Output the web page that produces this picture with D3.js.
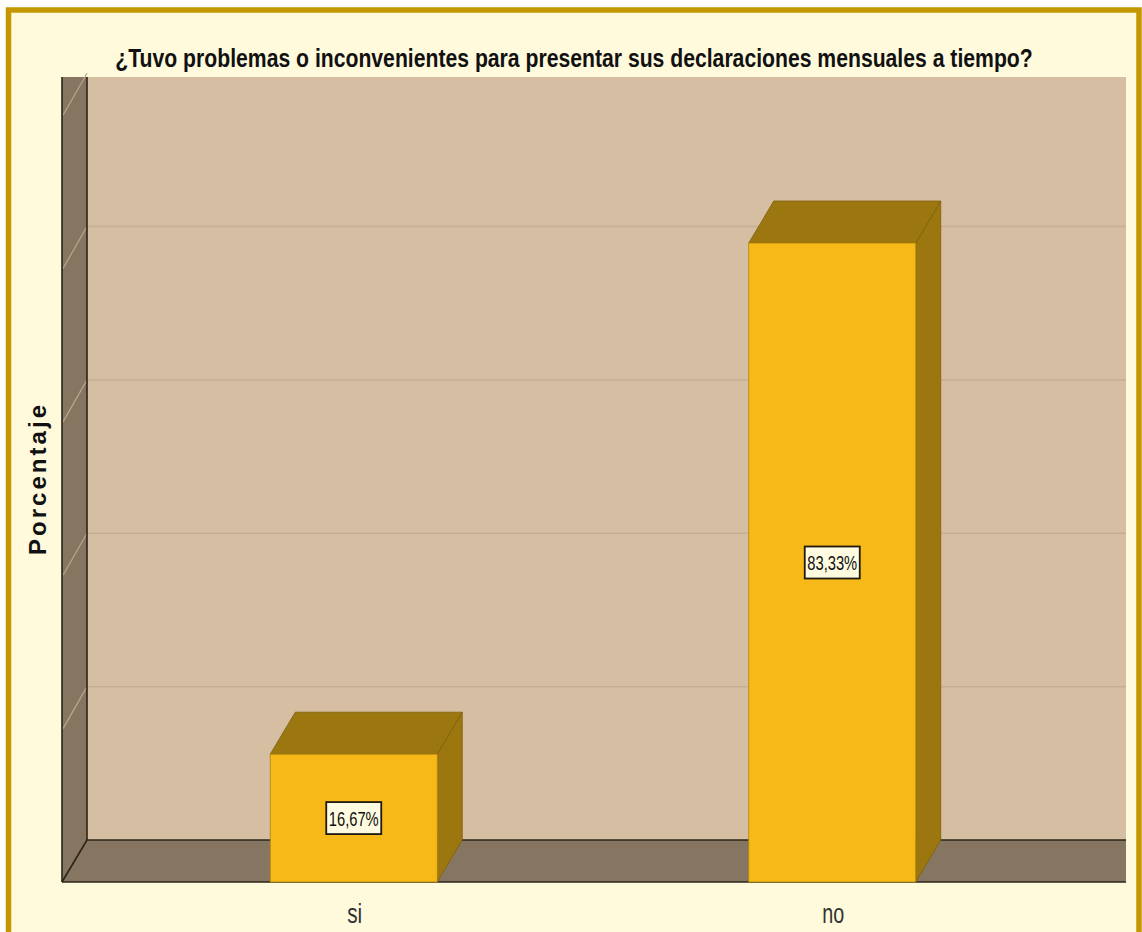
<!DOCTYPE html>
<html>
<head>
<meta charset="utf-8">
<script src="https://cdn.jsdelivr.net/npm/d3@7"></script>
<style>
  html, body { margin: 0; padding: 0; background: #ffffff; }
  svg { display: block; }
</style>
</head>
<body>
<svg id="chart" width="1142" height="932"></svg>
<script>
// ---- data ----
const categories = ["si", "no"];
const percentages = [16.67, 83.33];
const valueLabels = ["16,67%", "83,33%"];
const gridTicks = [20, 40, 60, 80, 100];
const titleText = "¿Tuvo problemas o inconvenientes para presentar sus declaraciones mensuales a tiempo?";
const yAxisTitle = "Porcentaje";

// ---- layout ----
const frontLeft = 62, frontBottom = 882;
const depthX = 25, depthY = 42;
const plotRight = 1126, wallTop = 77;

const svg = d3.select("#chart");

// narrow text helper: scale horizontally to a target width
function narrowText(sel, targetW) {
  const n = sel.node();
  const w = n.getComputedTextLength();
  const s = targetW / w;
  const ax = +sel.attr("x"), ay = +sel.attr("y");
  sel.attr("transform", `translate(${ax},${ay}) scale(${s},1) translate(${-ax},${-ay})`);
}

// outer frame
svg.append("rect").attr("x", 8.5).attr("y", 10).attr("width", 1130.5).attr("height", 940)
  .attr("fill", "#fffadc").attr("stroke", "#c49600").attr("stroke-width", 5.5);

const x = d3.scaleBand().domain(categories).range([114.5, 1071.5]).padding(0);
const y = d3.scaleLinear().domain([0, 100]).range([frontBottom, 115.2]);
const barW = x.bandwidth() * 0.349;

// back wall
svg.append("rect").attr("x", frontLeft + depthX).attr("y", wallTop)
  .attr("width", plotRight - frontLeft - depthX).attr("height", frontBottom - depthY - wallTop)
  .attr("fill", "#d5bea2");

// back wall gridlines
svg.append("g").selectAll("line").data(gridTicks.filter(t => y(t) - depthY > wallTop)).join("line")
  .attr("x1", frontLeft + depthX).attr("x2", plotRight)
  .attr("y1", d => y(d) - depthY).attr("y2", d => y(d) - depthY)
  .attr("stroke", "#c6ae92").attr("stroke-width", 1.5);

// left side wall
svg.append("polygon")
  .attr("points", [[frontLeft, wallTop], [frontLeft + depthX, wallTop], [frontLeft + depthX, frontBottom - depthY], [frontLeft, frontBottom]].map(p => p.join(",")).join(" "))
  .attr("fill", "#857561");

// side wall gridlines (diagonal)
svg.append("g").selectAll("line").data(gridTicks).join("line")
  .attr("x1", frontLeft + 1).attr("y1", d => y(d))
  .attr("x2", frontLeft + depthX).attr("y2", d => y(d) - depthY)
  .attr("stroke", "#b9a68c").attr("stroke-width", 1.2);

// floor
svg.append("polygon")
  .attr("points", [[frontLeft, frontBottom], [frontLeft + depthX, frontBottom - depthY], [plotRight, frontBottom - depthY], [plotRight, frontBottom]].map(p => p.join(",")).join(" "))
  .attr("fill", "#857561");

// frame outlines
const outline = svg.append("g").attr("stroke", "#2a2418").attr("stroke-width", 1.6).attr("fill", "none");
outline.append("line").attr("x1", frontLeft).attr("y1", wallTop).attr("x2", frontLeft).attr("y2", frontBottom);
outline.append("line").attr("x1", frontLeft + depthX).attr("y1", wallTop).attr("x2", frontLeft + depthX).attr("y2", frontBottom - depthY);
outline.append("line").attr("x1", frontLeft + depthX).attr("y1", frontBottom - depthY).attr("x2", plotRight).attr("y2", frontBottom - depthY);
outline.append("line").attr("x1", frontLeft).attr("y1", frontBottom).attr("x2", plotRight).attr("y2", frontBottom);
outline.append("line").attr("x1", frontLeft).attr("y1", frontBottom).attr("x2", frontLeft + depthX).attr("y2", frontBottom - depthY);

// bars
const data = categories.map((c, i) => ({ cat: c, v: percentages[i], label: valueLabels[i] }));
const bars = svg.append("g").selectAll("g").data(data).join("g");

bars.each(function(d) {
  const g = d3.select(this);
  const cx = x(d.cat) + x.bandwidth() / 2;
  const x0 = cx - barW / 2, x1 = cx + barW / 2;
  const yt = y(d.v), yb = y(0);
  g.append("polygon")
    .attr("points", [[x1, yt], [x1 + depthX, yt - depthY], [x1 + depthX, yb - depthY], [x1, yb]].map(p => p.join(",")).join(" "))
    .attr("fill", "#9c760f").attr("stroke", "#7f5f08").attr("stroke-width", 0.8);
  g.append("polygon")
    .attr("points", [[x0, yt], [x0 + depthX, yt - depthY], [x1 + depthX, yt - depthY], [x1, yt]].map(p => p.join(",")).join(" "))
    .attr("fill", "#9c760f").attr("stroke", "#7f5f08").attr("stroke-width", 0.8);
  g.append("rect").attr("x", x0).attr("y", yt).attr("width", barW).attr("height", yb - yt)
    .attr("fill", "#f7b918").attr("stroke", "#b08410").attr("stroke-width", 0.8);
  const my = (yt + yb) / 2;
  g.append("rect").attr("x", cx - 27.5).attr("y", my - 16).attr("width", 55).attr("height", 32)
    .attr("fill", "#fffbe0").attr("stroke", "#1e1a10").attr("stroke-width", 1.8);
  const t = g.append("text").attr("x", cx).attr("y", my + 8).attr("text-anchor", "middle")
    .attr("font-family", "Liberation Sans, Arial, sans-serif").attr("font-size", 21)
    .attr("fill", "#111").text(d.label);
  narrowText(t, 50);
});

// category labels
svg.append("g").selectAll("text").data(categories).join("text")
  .attr("x", d => x(d) + x.bandwidth() / 2 + 1).attr("y", 923)
  .attr("text-anchor", "middle")
  .attr("font-family", "Liberation Sans, Arial, sans-serif").attr("font-size", 28)
  .attr("fill", "#333").text(d => d)
  .each(function(d) { narrowText(d3.select(this), d === "si" ? 15 : 22); });

// title
const title = svg.append("text").attr("x", 574).attr("y", 67).attr("text-anchor", "middle")
  .attr("font-family", "Liberation Sans, Arial, sans-serif").attr("font-weight", "bold").attr("font-size", 25)
  .attr("fill", "#111").text(titleText);
narrowText(title, 918);

// y axis title
svg.append("text").attr("transform", "translate(46,480) rotate(-90)")
  .attr("text-anchor", "middle")
  .attr("font-family", "Liberation Sans, Arial, sans-serif").attr("font-weight", "bold").attr("font-size", 24)
  .attr("textLength", 150).attr("lengthAdjust", "spacing")
  .attr("fill", "#111").text(yAxisTitle);
</script>
</body>
</html>
